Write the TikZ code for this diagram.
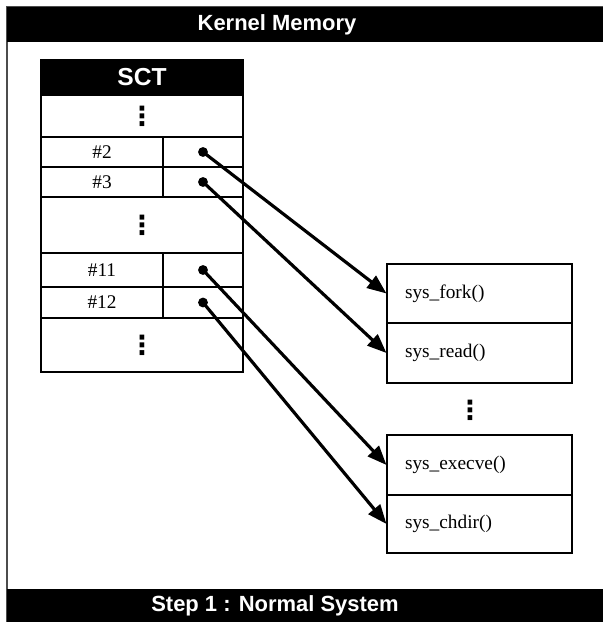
\documentclass[tikz,border=0pt]{standalone}
\usepackage{fontspec}
\setmainfont{Liberation Serif}
\newfontfamily\barfont{Liberation Sans}
\newfontfamily\symfont{DejaVu Sans}
\usetikzlibrary{arrows.meta}

\tikzset{
  bar text/.style={text=white, font=\barfont\bfseries\fontsize{12.5}{14}\selectfont},
  cell/.style={draw, line width=0.6pt, inner sep=0pt, font=\fontsize{11}{13}\selectfont},
  func/.style={cell, inner xsep=0.36cm, text width=2.98cm, align=left},
  pointer/.style={-{Triangle[length=11pt,width=8.5pt]}, line width=1.8pt},
}
\newcommand{\rowdots}{{\symfont\bfseries\fontsize{15}{16}\selectfont ⋮}}

\begin{document}
\begin{tikzpicture}[x=0.02cm, y=-0.02cm]
\useasboundingbox (0,0) rectangle (603,622);

% frame and bars
\draw[line width=0.8pt, black!70] (7,622) -- (7,7) -- (603,7);
\fill (7,7) rectangle (603,42);
\fill (7,589) rectangle (603,622);
\node[bar text] (title) at (277,24.5) {Kernel Memory};
\node[bar text] (caption) at (275,605.5) {Step 1 : Normal System};

% system call table
\node[cell, fill=black, text=white, font=\barfont\bfseries\fontsize{14}{16}\selectfont,
      minimum width=4.04cm, minimum height=0.7cm] (sct) at (142,77.5) {SCT};

\foreach \n/\y/\h in {dotsA/116/0.84, dotsB/225/1.12, dotsC/345/1.08}
  \node[cell, minimum width=4.04cm, minimum height=\h cm] (\n) at (142,\y) {\rowdots};

\foreach \n/\y/\h in {2/152/0.6, 3/182/0.6, 11/270/0.68, 12/302.5/0.62} {
  \node[cell, minimum width=2.44cm, minimum height=\h cm] (num-\n) at (102,\y) {\#\n};
  \node[cell, minimum width=1.6cm, minimum height=\h cm] (ptr-\n) at (203,\y) {};
}

% system call functions
\foreach \n/\y/\h/\t in {fork/293.5/1.18/sys\_fork(), read/353/1.2/sys\_read(),
                         execve/465/1.2/sys\_execve(), chdir/524/1.16/sys\_chdir()}
  \node[func, minimum height=\h cm] (\n) at (479.5,\y) {\t};

\node (gap) at (470,410) {\rowdots};

% table entries point to the handlers
\foreach \s/\t in {2/fork, 3/read, 11/execve, 12/chdir} {
  \fill (ptr-\s.center) circle (2.8pt);
  \draw[pointer] (ptr-\s.center) -- (\t.west);
}

\end{tikzpicture}
\end{document}
